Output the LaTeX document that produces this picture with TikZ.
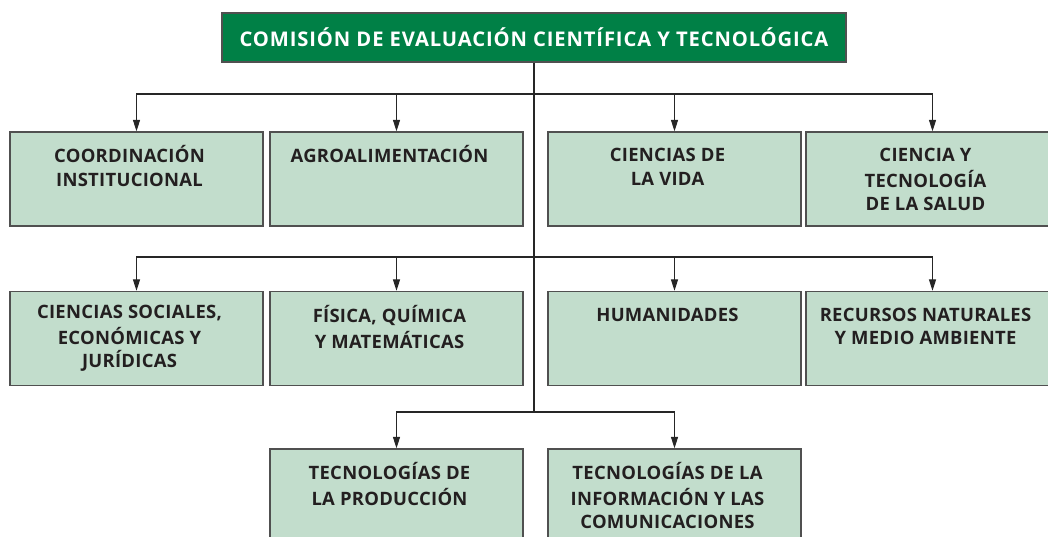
\documentclass[tikz,border=0pt]{standalone}
\usepackage{fontspec}
\setmainfont{Open Sans}
\newfontfamily\headfont{Open Sans}[LetterSpace=4.3]
\newfontfamily\areafont{Open Sans}[LetterSpace=1.5]
\usetikzlibrary{arrows.meta}
\usetikzlibrary{positioning}
\definecolor{comgreen}{RGB}{0,128,70}
\definecolor{areafill}{RGB}{194,221,204}
\definecolor{boxline}{RGB}{80,80,80}
\definecolor{areaink}{RGB}{35,31,32}
\begin{document}
\begin{tikzpicture}[x=0.02cm,y=-0.02cm,
  headbox/.style={rectangle,draw=boxline,line width=0.8pt,fill=comgreen,minimum width=12.48cm,minimum height=0.98cm,inner sep=0pt,
    text=white,font=\headfont\fontsize{11.5}{14}\selectfont\bfseries},
  areabox/.style={rectangle,draw=boxline,line width=0.8pt,fill=areafill,minimum width=5.06cm,minimum height=1.88cm,inner sep=0pt},
  areatext/.style={font=\areafont\fontsize{10.5}{13.2}\selectfont\bfseries,text=areaink,align=center,anchor=north,inner sep=0pt,
    xshift=-0.14cm,yshift=-0.28cm},
  feed/.style={draw=black!85,line width=0.6pt,-{Triangle[width=4pt,length=6.5pt]}},
  trunk/.style={draw=black!85,line width=0.6pt}]
\useasboundingbox (0,0) rectangle (1048,537);
\clip (0,0) rectangle (1048,537);

% commission
\node[headbox] (cect) at (534,37.5) {COMISIÓN DE EVALUACIÓN CIENTÍFICA Y TECNOLÓGICA};

% first row
\node[areabox] (coord) at (136.5,179) {};
\node[areabox] (agro) at (396.5,179) {};
\node[areabox] (vida) at (674.5,179) {};
\node[areabox] (salud) at (932.5,179) {};
\node[areatext] at (coord.north) {\strut COORDINACIÓN\\INSTITUCIONAL};
\node[areatext] at (agro.north) {\strut AGROALIMENTACIÓN};
\node[areatext] at (vida.north) {\strut CIENCIAS DE\\LA VIDA};
\node[areatext] at (salud.north) {\strut CIENCIA Y\\TECNOLOGÍA\\DE LA SALUD};

% second row
\node[areabox] (social) at (136.5,338.5) {};
\node[areabox] (fisica) at (396.5,338.5) {};
\node[areabox] (human) at (674.5,338.5) {};
\node[areabox] (recur) at (932.5,338.5) {};
\node[areatext,yshift=0.05cm] at (social.north) {\strut CIENCIAS SOCIALES,\\ECONÓMICAS Y\\JURÍDICAS};
\node[areatext] at (fisica.north) {\strut FÍSICA, QUÍMICA\\Y MATEMÁTICAS};
\node[areatext] at (human.north) {\strut HUMANIDADES};
\node[areatext] at (recur.north) {\strut RECURSOS NATURALES\\Y MEDIO AMBIENTE};

% third row
\node[areabox] (prod) at (396.5,496) {};
\node[areabox] (tic) at (674.5,496) {};
\node[areatext] at (prod.north) {\strut TECNOLOGÍAS DE\\LA PRODUCCIÓN};
\node[areatext] at (tic.north) {\strut TECNOLOGÍAS DE LA\\INFORMACIÓN Y LAS\\COMUNICACIONES};

% connectors
\coordinate (r1) at (534,94);
\coordinate (r2) at (534,257);
\coordinate (r3) at (534,412);
\draw[trunk] (cect.south) -- (r3);
\draw[feed] (r1) -| (coord.north);
\draw[feed] (r1) -| (agro.north);
\draw[feed] (r1) -| (vida.north);
\draw[feed] (r1) -| (salud.north);
\draw[feed] (r2) -| (social.north);
\draw[feed] (r2) -| (fisica.north);
\draw[feed] (r2) -| (human.north);
\draw[feed] (r2) -| (recur.north);
\draw[feed] (r3) -| (prod.north);
\draw[feed] (r3) -| (tic.north);
\end{tikzpicture}
\end{document}
